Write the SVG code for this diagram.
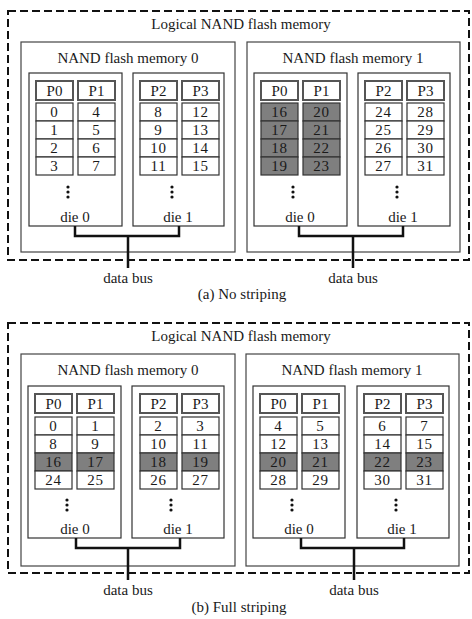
<svg xmlns="http://www.w3.org/2000/svg" width="472" height="619" viewBox="0 0 472 619">
<style>
text{font-family:"Liberation Serif","Times New Roman",serif;font-size:15px;fill:#1a1a1a;text-anchor:middle}
.outer{fill:none;stroke:#111;stroke-width:2;stroke-dasharray:8 4}
.mem{fill:#fff;stroke:#444;stroke-width:1.2}
.die{fill:#fff;stroke:#333;stroke-width:1.2}
.hdr{fill:#fff;stroke:#555;stroke-width:2}
.cell{fill:#fff;stroke:#333;stroke-width:1.2}
.sh{fill:#7f7f7f}
.num{letter-spacing:0.8px}
.dot{fill:#111}
.bus{fill:none;stroke:#111;stroke-width:2.5}
</style>
<defs>
<g id="dots"><circle cx="0" cy="0" r="1.6" class="dot"/><circle cx="0" cy="5" r="1.6" class="dot"/><circle cx="0" cy="10" r="1.6" class="dot"/></g>
</defs>
<rect width="472" height="619" fill="#fff"/>

<!-- Panel (a) -->
<g id="panel-a">
<rect class="outer" x="8" y="11" width="461" height="249"/>
<text x="241" y="29">Logical NAND  flash memory</text>
<text x="242" y="299">(a) No striping</text>
</g>

<g id="mem-a0" transform="translate(21,42)">
<rect class="mem" x="0" y="0" width="214" height="210"/>
<text x="107" y="21">NAND flash memory 0</text>
<g id="a0-die0">
<rect class="die" x="8" y="31" width="93" height="153"/>
<rect class="hdr" x="15" y="39" width="37" height="19"/><text x="33.5" y="54">P0</text>
<rect class="hdr" x="57" y="39" width="37" height="19"/><text x="75.5" y="54">P1</text>
<rect class="cell" x="15" y="61" width="37" height="18"/><text class="num" x="33.5" y="75">0</text>
<rect class="cell" x="15" y="79" width="37" height="18"/><text class="num" x="33.5" y="93">1</text>
<rect class="cell" x="15" y="97" width="37" height="18"/><text class="num" x="33.5" y="111">2</text>
<rect class="cell" x="15" y="115" width="37" height="18"/><text class="num" x="33.5" y="129">3</text>
<rect class="cell" x="57" y="61" width="37" height="18"/><text class="num" x="75.5" y="75">4</text>
<rect class="cell" x="57" y="79" width="37" height="18"/><text class="num" x="75.5" y="93">5</text>
<rect class="cell" x="57" y="97" width="37" height="18"/><text class="num" x="75.5" y="111">6</text>
<rect class="cell" x="57" y="115" width="37" height="18"/><text class="num" x="75.5" y="129">7</text>
<use href="#dots" x="47" y="145"/>
<text x="54" y="180">die 0</text>
</g>
<g id="a0-die1">
<rect class="die" x="112" y="31" width="91" height="153"/>
<rect class="hdr" x="119" y="39" width="37" height="19"/><text x="137.5" y="54">P2</text>
<rect class="hdr" x="161" y="39" width="37" height="19"/><text x="179.5" y="54">P3</text>
<rect class="cell" x="119" y="61" width="37" height="18"/><text class="num" x="137.5" y="75">8</text>
<rect class="cell" x="119" y="79" width="37" height="18"/><text class="num" x="137.5" y="93">9</text>
<rect class="cell" x="119" y="97" width="37" height="18"/><text class="num" x="137.5" y="111">10</text>
<rect class="cell" x="119" y="115" width="37" height="18"/><text class="num" x="137.5" y="129">11</text>
<rect class="cell" x="161" y="61" width="37" height="18"/><text class="num" x="179.5" y="75">12</text>
<rect class="cell" x="161" y="79" width="37" height="18"/><text class="num" x="179.5" y="93">13</text>
<rect class="cell" x="161" y="97" width="37" height="18"/><text class="num" x="179.5" y="111">14</text>
<rect class="cell" x="161" y="115" width="37" height="18"/><text class="num" x="179.5" y="129">15</text>
<use href="#dots" x="151" y="145"/>
<text x="157" y="180">die 1</text>
</g>
<text x="107" y="241">data bus</text>
</g>

<g id="mem-a1" transform="translate(247,42)">
<rect class="mem" x="0" y="0" width="213" height="210"/>
<text x="106" y="21">NAND flash memory 1</text>
<g id="a1-die0">
<rect class="die" x="7" y="31" width="93" height="153"/>
<rect class="hdr" x="14" y="39" width="37" height="19"/><text x="32.5" y="54">P0</text>
<rect class="hdr" x="56" y="39" width="37" height="19"/><text x="74.5" y="54">P1</text>
<rect class="cell sh" x="14" y="61" width="37" height="18"/><text class="num" x="32.5" y="75">16</text>
<rect class="cell sh" x="14" y="79" width="37" height="18"/><text class="num" x="32.5" y="93">17</text>
<rect class="cell sh" x="14" y="97" width="37" height="18"/><text class="num" x="32.5" y="111">18</text>
<rect class="cell sh" x="14" y="115" width="37" height="18"/><text class="num" x="32.5" y="129">19</text>
<rect class="cell sh" x="56" y="61" width="37" height="18"/><text class="num" x="74.5" y="75">20</text>
<rect class="cell sh" x="56" y="79" width="37" height="18"/><text class="num" x="74.5" y="93">21</text>
<rect class="cell sh" x="56" y="97" width="37" height="18"/><text class="num" x="74.5" y="111">22</text>
<rect class="cell sh" x="56" y="115" width="37" height="18"/><text class="num" x="74.5" y="129">23</text>
<use href="#dots" x="46" y="145"/>
<text x="53" y="180">die 0</text>
</g>
<g id="a1-die1">
<rect class="die" x="111" y="31" width="92" height="153"/>
<rect class="hdr" x="118" y="39" width="37" height="19"/><text x="136.5" y="54">P2</text>
<rect class="hdr" x="160" y="39" width="37" height="19"/><text x="178.5" y="54">P3</text>
<rect class="cell" x="118" y="61" width="37" height="18"/><text class="num" x="136.5" y="75">24</text>
<rect class="cell" x="118" y="79" width="37" height="18"/><text class="num" x="136.5" y="93">25</text>
<rect class="cell" x="118" y="97" width="37" height="18"/><text class="num" x="136.5" y="111">26</text>
<rect class="cell" x="118" y="115" width="37" height="18"/><text class="num" x="136.5" y="129">27</text>
<rect class="cell" x="160" y="61" width="37" height="18"/><text class="num" x="178.5" y="75">28</text>
<rect class="cell" x="160" y="79" width="37" height="18"/><text class="num" x="178.5" y="93">29</text>
<rect class="cell" x="160" y="97" width="37" height="18"/><text class="num" x="178.5" y="111">30</text>
<rect class="cell" x="160" y="115" width="37" height="18"/><text class="num" x="178.5" y="129">31</text>
<use href="#dots" x="150" y="145"/>
<text x="156" y="180">die 1</text>
</g>
<text x="106" y="241">data bus</text>
</g>

<!-- Panel (b) -->
<g id="panel-b">
<rect class="outer" x="8" y="323" width="461" height="250"/>
<text x="241" y="341">Logical NAND  flash memory</text>
<text x="239" y="612">(b) Full striping</text>
</g>

<g id="mem-b0" transform="translate(21,354)">
<rect class="mem" x="0" y="0" width="214" height="212"/>
<text x="107" y="21">NAND flash memory 0</text>
<g id="b0-die0">
<rect class="die" x="7" y="32" width="93" height="152"/>
<rect class="hdr" x="14" y="40" width="37" height="19"/><text x="32.5" y="55">P0</text>
<rect class="hdr" x="56" y="40" width="37" height="19"/><text x="74.5" y="55">P1</text>
<rect class="cell" x="14" y="63" width="37" height="18"/><text class="num" x="32.5" y="77">0</text>
<rect class="cell" x="14" y="81" width="37" height="18"/><text class="num" x="32.5" y="95">8</text>
<rect class="cell sh" x="14" y="99" width="37" height="18"/><text class="num" x="32.5" y="113">16</text>
<rect class="cell" x="14" y="117" width="37" height="18"/><text class="num" x="32.5" y="131">24</text>
<rect class="cell" x="56" y="63" width="37" height="18"/><text class="num" x="74.5" y="77">1</text>
<rect class="cell" x="56" y="81" width="37" height="18"/><text class="num" x="74.5" y="95">9</text>
<rect class="cell sh" x="56" y="99" width="37" height="18"/><text class="num" x="74.5" y="113">17</text>
<rect class="cell" x="56" y="117" width="37" height="18"/><text class="num" x="74.5" y="131">25</text>
<use href="#dots" x="46" y="146"/>
<text x="54" y="180">die 0</text>
</g>
<g id="b0-die1">
<rect class="die" x="111" y="32" width="92" height="152"/>
<rect class="hdr" x="119" y="40" width="37" height="19"/><text x="137.5" y="55">P2</text>
<rect class="hdr" x="161" y="40" width="37" height="19"/><text x="179.5" y="55">P3</text>
<rect class="cell" x="119" y="63" width="37" height="18"/><text class="num" x="137.5" y="77">2</text>
<rect class="cell" x="119" y="81" width="37" height="18"/><text class="num" x="137.5" y="95">10</text>
<rect class="cell sh" x="119" y="99" width="37" height="18"/><text class="num" x="137.5" y="113">18</text>
<rect class="cell" x="119" y="117" width="37" height="18"/><text class="num" x="137.5" y="131">26</text>
<rect class="cell" x="161" y="63" width="37" height="18"/><text class="num" x="179.5" y="77">3</text>
<rect class="cell" x="161" y="81" width="37" height="18"/><text class="num" x="179.5" y="95">11</text>
<rect class="cell sh" x="161" y="99" width="37" height="18"/><text class="num" x="179.5" y="113">19</text>
<rect class="cell" x="161" y="117" width="37" height="18"/><text class="num" x="179.5" y="131">27</text>
<use href="#dots" x="150" y="146"/>
<text x="157" y="180">die 1</text>
</g>
<text x="107" y="241">data bus</text>
</g>

<g id="mem-b1" transform="translate(246,354)">
<rect class="mem" x="0" y="0" width="213" height="212"/>
<text x="106" y="21">NAND flash memory 1</text>
<g id="b1-die0">
<rect class="die" x="7" y="32" width="92" height="152"/>
<rect class="hdr" x="14" y="40" width="37" height="19"/><text x="32.5" y="55">P0</text>
<rect class="hdr" x="56" y="40" width="37" height="19"/><text x="74.5" y="55">P1</text>
<rect class="cell" x="14" y="63" width="37" height="18"/><text class="num" x="32.5" y="77">4</text>
<rect class="cell" x="14" y="81" width="37" height="18"/><text class="num" x="32.5" y="95">12</text>
<rect class="cell sh" x="14" y="99" width="37" height="18"/><text class="num" x="32.5" y="113">20</text>
<rect class="cell" x="14" y="117" width="37" height="18"/><text class="num" x="32.5" y="131">28</text>
<rect class="cell" x="56" y="63" width="37" height="18"/><text class="num" x="74.5" y="77">5</text>
<rect class="cell" x="56" y="81" width="37" height="18"/><text class="num" x="74.5" y="95">13</text>
<rect class="cell sh" x="56" y="99" width="37" height="18"/><text class="num" x="74.5" y="113">21</text>
<rect class="cell" x="56" y="117" width="37" height="18"/><text class="num" x="74.5" y="131">29</text>
<use href="#dots" x="46" y="146"/>
<text x="53" y="180">die 0</text>
</g>
<g id="b1-die1">
<rect class="die" x="111" y="32" width="92" height="152"/>
<rect class="hdr" x="118" y="40" width="37" height="19"/><text x="136.5" y="55">P2</text>
<rect class="hdr" x="160" y="40" width="37" height="19"/><text x="178.5" y="55">P3</text>
<rect class="cell" x="118" y="63" width="37" height="18"/><text class="num" x="136.5" y="77">6</text>
<rect class="cell" x="118" y="81" width="37" height="18"/><text class="num" x="136.5" y="95">14</text>
<rect class="cell sh" x="118" y="99" width="37" height="18"/><text class="num" x="136.5" y="113">22</text>
<rect class="cell" x="118" y="117" width="37" height="18"/><text class="num" x="136.5" y="131">30</text>
<rect class="cell" x="160" y="63" width="37" height="18"/><text class="num" x="178.5" y="77">7</text>
<rect class="cell" x="160" y="81" width="37" height="18"/><text class="num" x="178.5" y="95">15</text>
<rect class="cell sh" x="160" y="99" width="37" height="18"/><text class="num" x="178.5" y="113">23</text>
<rect class="cell" x="160" y="117" width="37" height="18"/><text class="num" x="178.5" y="131">31</text>
<use href="#dots" x="150" y="146"/>
<text x="156" y="180">die 1</text>
</g>
<text x="108" y="241">data bus</text>
</g>

<g id="connectors">
<path class="bus" d="M75,226 V236 H179 V226 M128,236 V268"/>
<path class="bus" d="M299,226 V236 H403 V226 M353,236 V268"/>
<path class="bus" d="M76,538 V548 H180 V538 M128,548 V580"/>
<path class="bus" d="M301,538 V548 H404 V538 M354,548 V580"/>
</g>
</svg>
